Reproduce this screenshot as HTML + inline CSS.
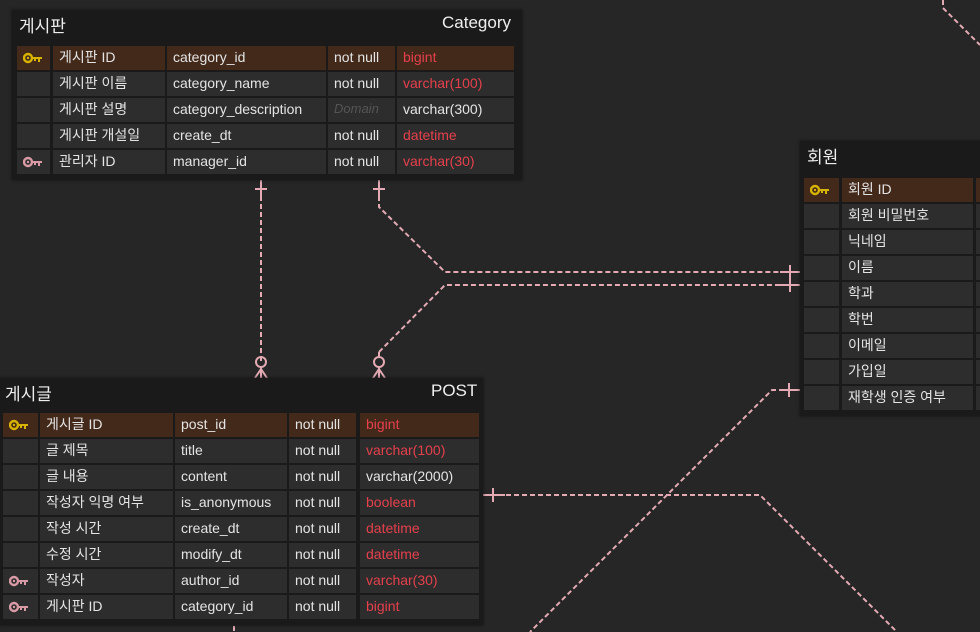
<!DOCTYPE html>
<html><head><meta charset="utf-8"><style>
*{margin:0;padding:0;box-sizing:border-box}
body{width:980px;height:632px;background:#262626;position:relative;overflow:hidden;font-family:"Liberation Sans","Noto Sans CJK KR",sans-serif;color:#e4e4e4}
.t{position:absolute;background:#1a1a1a;box-shadow:0 0 3px #111}
.tt{position:absolute;font-size:17px;color:#eee}
.c{position:absolute;height:24px;background:#2d2d2d;font-size:14px;line-height:22px;padding-left:6px;white-space:nowrap;overflow:hidden}
.pk{background:#43291a}
.r{color:#e5404c}
.d{color:#555;font-style:italic;font-size:13px}
svg{position:absolute;left:0;top:0}
</style></head><body>
<svg width="980" height="632">
<g stroke="#e3aab4" stroke-width="2" fill="none" stroke-dasharray="5,3">
<path d="M261 180 V362"/>
<path d="M379 180 V207 L445 272 H800"/>
<path d="M379 352 L445 285 H800"/>
<path d="M482 495 H760 L897 632"/>
<path d="M800 390 H772 L530 632"/>
<path d="M943 0 V8 L980 45"/>
<path d="M234 626 V632"/>
</g>
<g stroke="#e3aab4" stroke-width="2" fill="none">
<path d="M255 189 H267 M261 180 V200"/>
<path d="M373 189 H385 M379 180 V200"/>
<circle cx="261" cy="362" r="5"/><path d="M261 367 V378 M261 369 L255 378 M261 369 L267 378"/>
<circle cx="379" cy="362" r="5"/><path d="M379 352 V357 M379 367 V378 M379 369 L373 378 M379 369 L385 378"/>
<path d="M790 265 V280 M780 272 H800"/>
<path d="M790 278 V292 M780 285 H800"/>
<path d="M493 488 V502 M484 495 H505"/>
<path d="M789 383 V397 M780 390 H800"/>
</g>
</svg>

<!-- Category -->
<div class="t" style="left:12px;top:10px;width:510px;height:170px"></div>
<div class="tt" style="left:19px;top:12px">게시판</div>
<div class="tt" style="left:442px;top:13px">Category</div>

<!-- POST -->
<div class="t" style="left:0;top:378px;width:483px;height:247px"></div>
<div class="tt" style="left:5px;top:380px">게시글</div>
<div class="tt" style="left:431px;top:381px">POST</div>

<!-- Member -->
<div class="t" style="left:800px;top:141px;width:190px;height:275px"></div>
<div class="tt" style="left:807px;top:143px">회원</div>

<div id="rows"></div>
<script>
function key(c){return '<svg width="22" height="12" viewBox="0 0 22 12" style="position:absolute;left:6px;top:6px"><circle cx="5" cy="6" r="4" fill="none" stroke="'+c+'" stroke-width="2.4"/><circle cx="5" cy="6" r="1.2" fill="'+c+'"/><path d="M9 5h10v2h-2v3h-2v-3h-2v2h-2v-2H9z" fill="'+c+'"/></svg>';}
var Y='#d8b400',P='#d89aa4';
var html='';
function table(x0,y0,cols,rows){
 rows.forEach(function(r,i){
  var y=y0+i*26, pk=i==0&&r[0]=='k';
  cols.forEach(function(c,j){
   var cls='c'+(pk?' pk':'');
   var txt=r[j+1]||'';
   if(j==0){ html+='<div class="'+cls+'" style="left:'+c[0]+'px;top:'+y+'px;width:'+c[1]+'px">'+(r[0]=='k'?key(Y):r[0]=='f'?key(P):'')+'</div>'; return;}
   var extra='';
   if(txt.charAt(0)=='!'){extra=' r';txt=txt.slice(1);}
   if(txt.charAt(0)=='~'){extra=' d';txt=txt.slice(1);}
   html+='<div class="'+cls+extra+'" style="left:'+c[0]+'px;top:'+y+'px;width:'+c[1]+'px">'+txt+'</div>';
  });
 });
}
table(17,46,[[17,33],[53,112],[167,159],[328,67],[397,117]],[
['k','','게시판 ID','category_id','not null','!bigint'],
['','','게시판 이름','category_name','not null','!varchar(100)'],
['','','게시판 설명','category_description','~Domain','varchar(300)'],
['','','게시판 개설일','create_dt','not null','!datetime'],
['f','','관리자 ID','manager_id','not null','!varchar(30)']]);
table(3,413,[[3,35],[40,133],[175,112],[289,67],[360,119]],[
['k','','게시글 ID','post_id','not null','!bigint'],
['','','글 제목','title','not null','!varchar(100)'],
['','','글 내용','content','not null','varchar(2000)'],
['','','작성자 익명 여부','is_anonymous','not null','!boolean'],
['','','작성 시간','create_dt','not null','!datetime'],
['','','수정 시간','modify_dt','not null','!datetime'],
['f','','작성자','author_id','not null','!varchar(30)'],
['f','','게시판 ID','category_id','not null','!bigint']]);
table(804,178,[[804,35],[842,131],[976,20]],[
['k','','회원 ID',''],['','','회원 비밀번호',''],['','','닉네임',''],['','','이름',''],['','','학과',''],['','','학번',''],['','','이메일',''],['','','가입일',''],['','','재학생 인증 여부','']]);
document.getElementById('rows').innerHTML=html;
</script>
</body></html>
